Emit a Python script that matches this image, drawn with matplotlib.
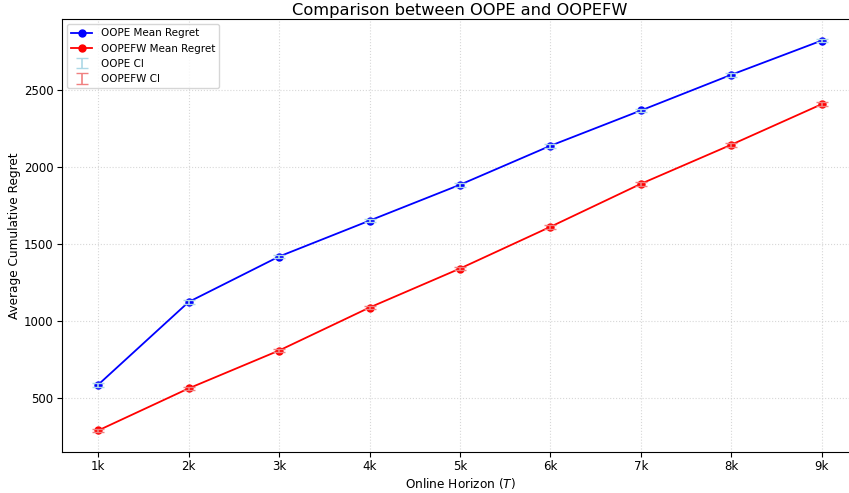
import matplotlib

matplotlib.use("Agg")
import matplotlib.pyplot as plt

# online horizons and mean cumulative regret
horizons = [1000, 2000, 3000, 4000, 5000, 6000, 7000, 8000, 9000]
tick_labels = ["1k", "2k", "3k", "4k", "5k", "6k", "7k", "8k", "9k"]
oope_mean = [584, 1121, 1416, 1649, 1882, 2135, 2364, 2596, 2818]
oopefw_mean = [287, 560, 806, 1085, 1338, 1609, 1888, 2142, 2405]
# half-widths of the confidence intervals (very narrow)
oope_ci = [14, 14, 12, 12, 12, 12, 12, 12, 12]
oopefw_ci = [12, 12, 12, 12, 12, 12, 12, 12, 12]

fig = plt.figure(figsize=(8.49, 4.93), dpi=100)
ax = fig.add_axes([62 / 849, 41 / 493, 796 / 849, 433 / 493])

ax.plot(horizons, oope_mean, "o-", color="blue", markersize=5,
        linewidth=1.3, label="OOPE Mean Regret")
ax.plot(horizons, oopefw_mean, "o-", color="red", markersize=5,
        linewidth=1.3, label="OOPEFW Mean Regret")
ax.errorbar(horizons, oope_mean, yerr=oope_ci, fmt="none", ecolor="lightblue",
            capsize=4, elinewidth=1.2, label="OOPE CI")
ax.errorbar(horizons, oopefw_mean, yerr=oopefw_ci, fmt="none",
            ecolor="lightcoral", capsize=4, elinewidth=1.2, label="OOPEFW CI")

ax.set_xticks(horizons)
ax.set_xticklabels(tick_labels)
ax.set_yticks([500, 1000, 1500, 2000, 2500])
ax.tick_params(labelsize=8.5, pad=2.5)
ax.set_xlabel("Online Horizon ($T$)", fontsize=8.7, labelpad=2)
ax.set_ylabel("Average Cumulative Regret", fontsize=8.7, labelpad=2)
ax.set_title("Comparison between OOPE and OOPEFW", fontsize=11.7, pad=3)
ax.grid(True, linestyle=":", color="lightgray", alpha=0.9)
ax.legend(loc="upper left", fontsize=7.5)

plt.savefig("out.png", dpi=100)
